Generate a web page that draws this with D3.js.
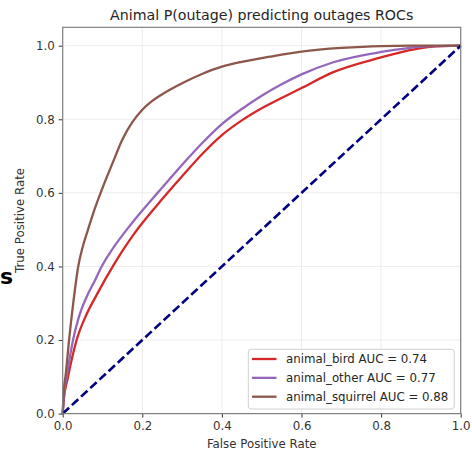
<!DOCTYPE html>
<html>
<head>
<meta charset="utf-8">
<script src="https://cdn.jsdelivr.net/npm/d3@7"></script>
<style>
  body { margin: 0; background: #fff; }
  text { font-family: "DejaVu Sans", sans-serif; }
</style>
</head>
<body>
<div class="canvas"></div>
<script>
var seriesNames = ["animal_bird", "animal_other", "animal_squirrel"];
var aucLabels = ["0.74", "0.77", "0.88"];
var seriesColors = ["#d62728", "#9467bd", "#8c564b"];

// false positive rate / true positive rate
var birdFpr = [0, 0.003, 0.0125, 0.035, 0.06, 0.085, 0.127, 0.177, 0.2, 0.25, 0.3, 0.35, 0.4, 0.45, 0.5, 0.55, 0.6, 0.68, 0.8, 0.864, 0.923, 1];
var birdTpr = [0, 0.04, 0.095, 0.2, 0.27, 0.322, 0.402, 0.485, 0.518, 0.583, 0.645, 0.705, 0.757, 0.797, 0.83, 0.858, 0.885, 0.928, 0.968, 0.986, 0.997, 1];

var otherFpr = [0, 0.003, 0.01, 0.026, 0.04, 0.06, 0.08, 0.098, 0.13, 0.161, 0.2, 0.24, 0.303, 0.35, 0.4, 0.45, 0.5, 0.55, 0.6, 0.68, 0.8, 0.864, 0.914, 1];
var otherTpr = [0, 0.05, 0.1, 0.2, 0.26, 0.317, 0.36, 0.4, 0.455, 0.5, 0.552, 0.602, 0.68, 0.735, 0.787, 0.828, 0.864, 0.895, 0.922, 0.955, 0.983, 0.993, 0.998, 1];

var squirrelFpr = [0, 0.002, 0.008, 0.016, 0.027, 0.039, 0.05, 0.063, 0.08, 0.106, 0.125, 0.15, 0.175, 0.2, 0.225, 0.25, 0.3, 0.35, 0.4, 0.45, 0.5, 0.55, 0.6, 0.7, 0.8, 0.9, 1];
var squirrelTpr = [0, 0.05, 0.11, 0.2, 0.305, 0.4, 0.452, 0.498, 0.555, 0.63, 0.68, 0.745, 0.792, 0.826, 0.85, 0.868, 0.898, 0.923, 0.943, 0.956, 0.966, 0.976, 0.984, 0.994, 0.999, 1, 1];

var tickValues = [0, 0.2, 0.4, 0.6, 0.8, 1.0];

var width = 472, height = 453;
var margin = {top: 27.3, bottom: 453 - 413.6, left: 62.7, right: 472 - 460.7};

var svg = d3.select(".canvas")
	.append("svg")
	.attr("width", width)
	.attr("height", height);

var x = d3.scaleLinear().domain([0, 1]).range([margin.left, width - margin.right]);
var y = d3.scaleLinear().domain([0, 1.05]).range([height - margin.bottom, margin.top]);

// grid
svg.append("g").selectAll("line").data(tickValues).enter().append("line")
	.attr("x1", function(d) { return x(d); }).attr("x2", function(d) { return x(d); })
	.attr("y1", y(0)).attr("y2", y(1.05))
	.attr("stroke", "#ebebeb").attr("stroke-width", 0.9);
svg.append("g").selectAll("line").data(tickValues).enter().append("line")
	.attr("y1", function(d) { return y(d); }).attr("y2", function(d) { return y(d); })
	.attr("x1", x(0)).attr("x2", x(1))
	.attr("stroke", "#ebebeb").attr("stroke-width", 0.9);

var line = d3.line()
	.x(function(d) { return x(d[0]); })
	.y(function(d) { return y(d[1]); })
	.curve(d3.curveMonotoneX);

var curves = [d3.zip(birdFpr, birdTpr), d3.zip(otherFpr, otherTpr), d3.zip(squirrelFpr, squirrelTpr)];

svg.append("g").selectAll("path").data(curves).enter().append("path")
	.attr("d", line)
	.attr("fill", "none")
	.attr("stroke", function(d, i) { return seriesColors[i]; })
	.attr("stroke-width", 2.3)
	.attr("stroke-linejoin", "round");

// chance line
svg.append("line")
	.attr("x1", x(0)).attr("y1", y(0)).attr("x2", x(1)).attr("y2", y(1))
	.attr("stroke", "#000080").attr("stroke-width", 2.6)
	.attr("stroke-dasharray", "8.7,3.8");

// axes
var xAxis = svg.append("g")
	.attr("transform", "translate(0," + y(0) + ")")
	.call(d3.axisBottom(x).tickValues(tickValues).tickFormat(d3.format(".1f")).tickSize(4).tickPadding(4));
var yAxis = svg.append("g")
	.attr("transform", "translate(" + x(0) + ",0)")
	.call(d3.axisLeft(y).tickValues(tickValues).tickFormat(d3.format(".1f")).tickSize(4).tickPadding(4));

[xAxis, yAxis].forEach(function(a) {
	a.select(".domain").remove();
	a.selectAll("line").attr("stroke", "#333");
	a.selectAll("text").attr("font-size", "11.8px").attr("fill", "#333")
		.attr("font-family", "DejaVu Sans, sans-serif");
});

svg.append("rect")
	.attr("x", x(0)).attr("y", y(1.05))
	.attr("width", x(1) - x(0)).attr("height", y(0) - y(1.05))
	.attr("fill", "none").attr("stroke", "#808080").attr("stroke-width", 1.2);

// labels
svg.append("text")
	.attr("x", (x(0) + x(1)) / 2).attr("y", 20)
	.attr("text-anchor", "middle").attr("font-size", "14.2px").attr("fill", "#262626")
	.text("Animal P(outage) predicting outages ROCs");

svg.append("text")
	.attr("x", (x(0) + x(1)) / 2).attr("y", 447.5)
	.attr("text-anchor", "middle").attr("font-size", "11.8px").attr("fill", "#333")
	.text("False Positive Rate");

svg.append("text")
	.attr("transform", "translate(24," + (y(0) + y(1.05)) / 2 + ") rotate(-90)")
	.attr("text-anchor", "middle").attr("font-size", "11.8px").attr("fill", "#333")
	.text("True Positive Rate");

// stray bold label at the left edge
svg.append("text")
	.attr("x", 0).attr("y", 284)
	.attr("font-size", "22px").attr("font-weight", "bold").attr("fill", "#000")
	.text("s");

// legend
var legend = svg.append("g");
legend.append("rect")
	.attr("x", 248.3).attr("y", 349.3).attr("width", 206).attr("height", 59.7)
	.attr("rx", 3).attr("fill", "#fff").attr("fill-opacity", 0.8)
	.attr("stroke", "#d0d0d0").attr("stroke-width", 1);

var entry = legend.selectAll(".entry").data(seriesNames).enter().append("g")
	.attr("class", "entry")
	.attr("transform", function(d, i) { return "translate(0," + (359 + i * 18.85) + ")"; });
entry.append("line")
	.attr("x1", 252).attr("x2", 276.5).attr("y1", 0).attr("y2", 0)
	.attr("stroke", function(d, i) { return seriesColors[i]; })
	.attr("stroke-width", 2.3);
entry.append("text")
	.attr("x", 286).attr("y", 4.3)
	.attr("font-size", "11.8px").attr("fill", "#262626")
	.text(function(d, i) { return d + " AUC = " + aucLabels[i]; });
</script>
</body>
</html>
